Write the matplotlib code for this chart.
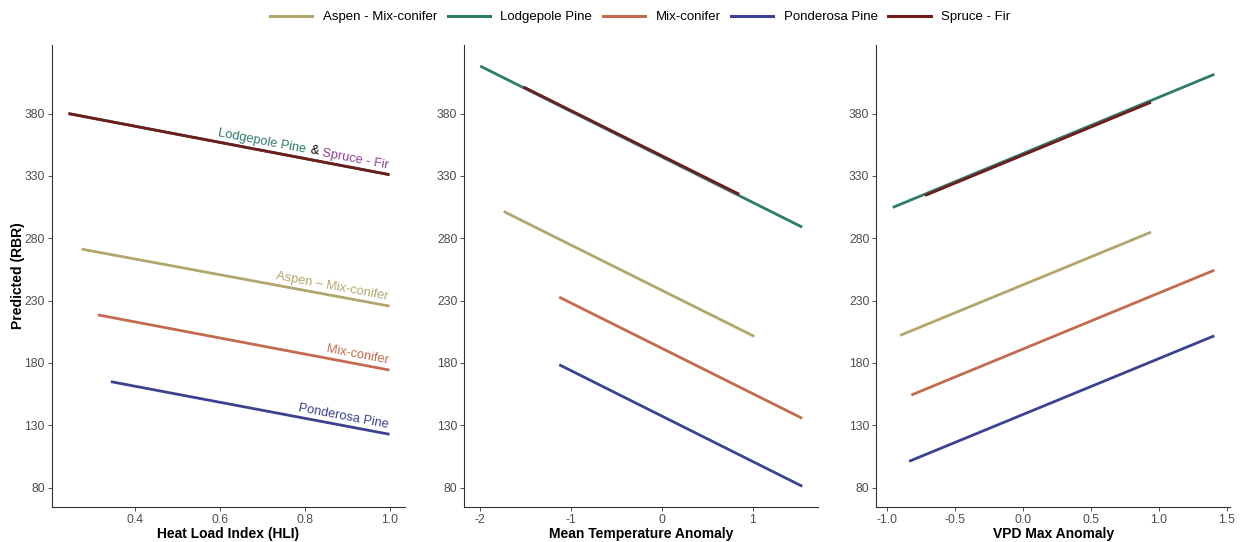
import numpy as np
import matplotlib
matplotlib.use("Agg")
import matplotlib.pyplot as plt
from matplotlib.lines import Line2D

plt.rcParams['font.family'] = ['Liberation Sans', 'DejaVu Sans']

species = ['Aspen - Mix-conifer', 'Lodgepole Pine', 'Mix-conifer', 'Ponderosa Pine', 'Spruce - Fir']
colors = ['#B2A66B', '#2E7B69', '#C46A4E', '#3B4290', '#701C1C']

# Heat Load Index panel: (x start, x end), (y start, y end)
hli_x = {'Aspen - Mix-conifer': [0.274, 1.0], 'Lodgepole Pine': [0.243, 1.0],
         'Mix-conifer': [0.312, 1.0], 'Ponderosa Pine': [0.343, 1.0], 'Spruce - Fir': [0.243, 1.0]}
hli_y = {'Aspen - Mix-conifer': [271.3, 225.6], 'Lodgepole Pine': [380.0, 331.0],
         'Mix-conifer': [218.6, 174.3], 'Ponderosa Pine': [165.0, 122.8], 'Spruce - Fir': [380.0, 331.0]}

# Mean temperature anomaly panel
tmp_x = {'Aspen - Mix-conifer': [-1.742, 1.018], 'Lodgepole Pine': [-2.0, 1.546],
         'Mix-conifer': [-1.13, 1.546], 'Ponderosa Pine': [-1.13, 1.546], 'Spruce - Fir': [-1.522, 0.852]}
tmp_y = {'Aspen - Mix-conifer': [301.5, 201.3], 'Lodgepole Pine': [418.1, 288.9],
         'Mix-conifer': [232.8, 135.6], 'Ponderosa Pine': [178.6, 81.1], 'Spruce - Fir': [401.3, 315.3]}

# VPD max anomaly panel
vpd_x = {'Aspen - Mix-conifer': [-0.904, 0.943], 'Lodgepole Pine': [-0.958, 1.409],
         'Mix-conifer': [-0.821, 1.409], 'Ponderosa Pine': [-0.838, 1.409], 'Spruce - Fir': [-0.72, 0.943]}
vpd_y = {'Aspen - Mix-conifer': [202.1, 284.9], 'Lodgepole Pine': [304.7, 411.5],
         'Mix-conifer': [154.3, 254.4], 'Ponderosa Pine': [101.1, 201.8], 'Spruce - Fir': [314.3, 389.1]}

yticks = [80, 130, 180, 230, 280, 330, 380]

fig = plt.figure(figsize=(12.43, 5.42), dpi=100)
bottom, top = 0.0646, 0.917
lefts = [0.0416, 0.3735, 0.705]
rights = [0.326, 0.6578, 0.9895]
panels = [(hli_x, hli_y, 'Heat Load Index (HLI)', [0.4, 0.6, 0.8, 1.0], (0.2035, 1.037), ['0.4', '0.6', '0.8', '1.0']),
          (tmp_x, tmp_y, 'Mean Temperature Anomaly', [-2, -1, 0, 1], (-2.176, 1.716), ['-2', '-1', '0', '1']),
          (vpd_x, vpd_y, 'VPD Max Anomaly', [-1.0, -0.5, 0.0, 0.5, 1.0, 1.5], (-1.079, 1.524),
           ['-1.0', '-0.5', '0.0', '0.5', '1.0', '1.5'])]

axes = []
for i, (xs, ys, xlabel, xt, xl, xtl) in enumerate(panels):
    ax = fig.add_axes([lefts[i], bottom, rights[i] - lefts[i], top - bottom])
    for sp, c in zip(species, colors):
        ax.plot(xs[sp], ys[sp], color=c, lw=2.0, solid_capstyle='butt')
    ax.set_xlim(xl)
    ax.set_ylim(64.5, 435)
    ax.set_xticks(xt)
    ax.set_xticklabels(xtl)
    ax.set_yticks(yticks)
    ax.spines['top'].set_visible(False)
    ax.spines['right'].set_visible(False)
    for s in ['left', 'bottom']:
        ax.spines[s].set_color('#333333')
        ax.spines[s].set_linewidth(0.8)
    ax.tick_params(colors='#333333', labelcolor='#4D4D4D', labelsize=8.7, length=3, width=0.6, pad=2)
    ax.set_xlabel(xlabel, fontsize=10, fontweight='bold', labelpad=1)
    axes.append(ax)

axes[0].set_ylabel('Predicted (RBR)', fontsize=10, fontweight='bold')
axes[0].yaxis.set_label_coords(-0.075, 0.5)

# labels along the lines in the first panel
ax = axes[0]


def slope_angle(sp):
    x0, x1 = hli_x[sp]
    y0, y1 = hli_y[sp]
    return np.degrees(np.arctan2(y1 - y0, x1 - x0))


def line_y(sp, x):
    return np.interp(x, hli_x[sp], hli_y[sp])


def label(sp, x, txt, color, ha='right'):
    ax.text(x, line_y(sp, x) + 2.5, txt, color=color, fontsize=9.3, ha=ha, va='bottom',
            rotation=slope_angle(sp), rotation_mode='anchor', transform_rotates_text=True)


label('Aspen - Mix-conifer', 0.995, 'Aspen \u2013 Mix-conifer', colors[0])
label('Mix-conifer', 0.995, 'Mix-conifer', colors[2])
label('Ponderosa Pine', 0.995, 'Ponderosa Pine', colors[3])
label('Spruce - Fir', 0.995, 'Spruce - Fir', '#8E3F8E')
label('Spruce - Fir', 0.81, '&', 'black', ha='left')
label('Spruce - Fir', 0.8, 'Lodgepole Pine', colors[1])

handles = [Line2D([], [], color=c, lw=2.2) for c in colors]
fig.legend(handles, species, loc='center', bbox_to_anchor=(0.515, 0.968), ncol=5, frameon=False,
           fontsize=9.5, handlelength=3.2, handletextpad=0.8, columnspacing=0.8)

fig.savefig('out.png', dpi=100)
